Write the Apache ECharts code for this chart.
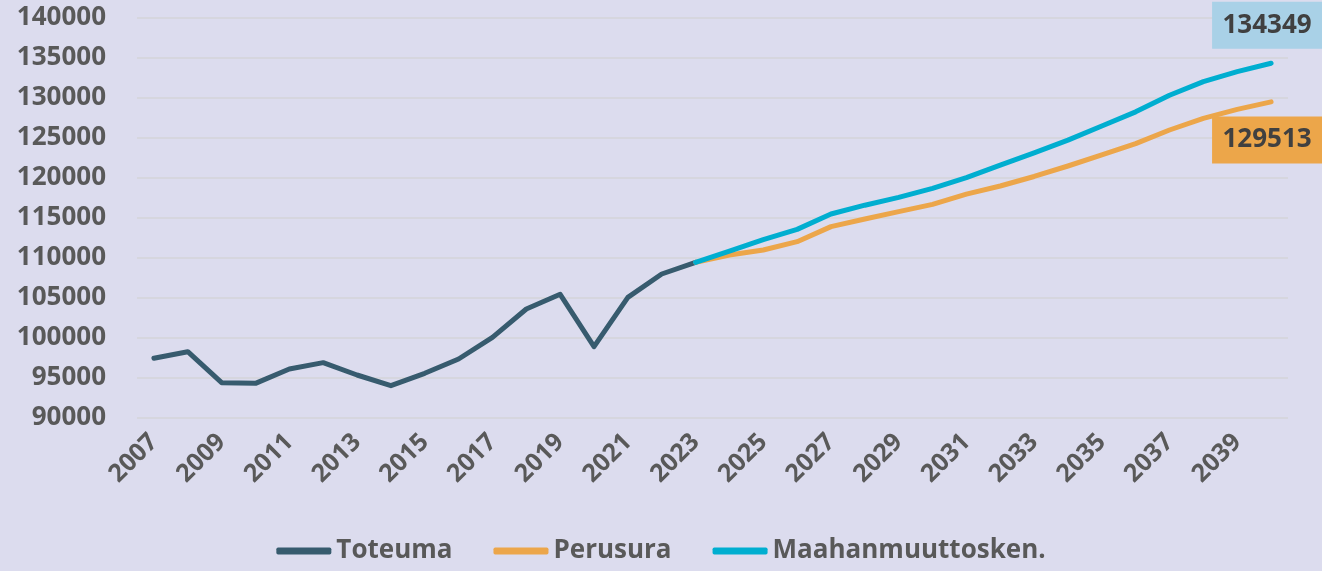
<!DOCTYPE html>
<html>
<head>
<meta charset="utf-8">
<script src="https://cdn.jsdelivr.net/npm/echarts@6/dist/echarts.min.js"></script>
<style>
  html, body { margin: 0; padding: 0; background: #dcdcee; }
  #chart { width: 1322px; height: 571px; }
</style>
</head>
<body>
<div id="chart"></div>
<script>
  // vuodet
  var years = ['2007', '2008', '2009', '2010', '2011', '2012', '2013', '2014', '2015', '2016', '2017',
    '2018', '2019', '2020', '2021', '2022', '2023', '2024', '2025', '2026', '2027', '2028', '2029',
    '2030', '2031', '2032', '2033', '2034', '2035', '2036', '2037', '2038', '2039', '2040']

  // 2007-2023
  var toteuma = [97460, 98290, 94420, 94330, 96125, 96920, 95375, 94040, 95590, 97375, 100080,
    103625, 105460, 98920, 105080, 108000, 109460]

  // ennusteet 2023-2040
  var perusura = [109460, 110375, 111000, 112040, 113920, 114875, 115790, 116710, 117980, 119000,
    120190, 121500, 122900, 124290, 126000, 127460, 128580, 129513]
  var maahanmuutto = [109460, 110850, 112300, 113580, 115500, 116600, 117580, 118710, 120040, 121620,
    123150, 124730, 126500, 128270, 130350, 132040, 133290, 134349]

  var yTicks = { min: 90000, max: 140000, interval: 5000 }

  function pad(arr, startYear) {
    var out = []
    years.forEach(function (y) {
      var i = Number(y) - startYear
      out.push(i >= 0 && i < arr.length ? arr[i] : null)
    })
    return out
  }

  var font = '"Open Sans", "Noto Sans", sans-serif'
  var chart = echarts.init(document.getElementById('chart'))
  chart.setOption({
    animation: false,
    backgroundColor: '#dcdcee',
    grid: { left: 137, right: 34, top: 18, bottom: 153 },
    legend: {
      bottom: 2,
      left: 'center',
      icon: 'roundRect',
      itemWidth: 55,
      itemHeight: 7,
      itemGap: 41,
      textStyle: { color: '#595959', fontFamily: font, fontWeight: 'bold', fontSize: 26 },
      data: ['Toteuma', 'Perusura', 'Maahanmuuttosken.']
    },
    xAxis: {
      type: 'category',
      data: years,
      boundaryGap: true,
      axisLine: { show: false },
      axisTick: { show: false },
      axisLabel: {
        interval: 1,
        rotate: 45,
        margin: 20,
        color: '#595959',
        fontFamily: font,
        fontWeight: 'bold',
        fontSize: 25
      }
    },
    yAxis: {
      type: 'value',
      min: yTicks.min,
      max: yTicks.max,
      interval: yTicks.interval,
      axisLine: { show: false },
      axisTick: { show: false },
      splitLine: { lineStyle: { color: '#d6d6de', width: 2 } },
      axisLabel: {
        margin: 31,
        color: '#595959',
        fontFamily: font,
        fontWeight: 'bold',
        fontSize: 26,
        formatter: function (v) { return String(v) }
      }
    },
    series: [
      {
        name: 'Toteuma',
        type: 'line',
        data: pad(toteuma, 2007),
        showSymbol: false,
        color: '#375b6e',
        lineStyle: { width: 5, cap: 'round', join: 'round' }
      },
      {
        name: 'Perusura',
        type: 'line',
        data: pad(perusura, 2023),
        showSymbol: false,
        color: '#eca64a',
        lineStyle: { width: 5, cap: 'round', join: 'round' },
        markPoint: {
          symbol: 'rect',
          symbolSize: [110, 47],
          symbolOffset: [-4, 38],
          itemStyle: { color: '#eca64a' },
          label: { color: '#404040', fontFamily: font, fontWeight: 'bold', fontSize: 26 },
          data: [{ type: 'max' }]
        }
      },
      {
        name: 'Maahanmuuttosken.',
        type: 'line',
        data: pad(maahanmuutto, 2023),
        showSymbol: false,
        color: '#00aed0',
        lineStyle: { width: 5, cap: 'round', join: 'round' },
        markPoint: {
          symbol: 'rect',
          symbolSize: [110, 47],
          symbolOffset: [-4, -38],
          itemStyle: { color: '#a9d1e7' },
          label: { color: '#404040', fontFamily: font, fontWeight: 'bold', fontSize: 26 },
          data: [{ type: 'max' }]
        }
      }
    ]
  })
</script>
</body>
</html>
